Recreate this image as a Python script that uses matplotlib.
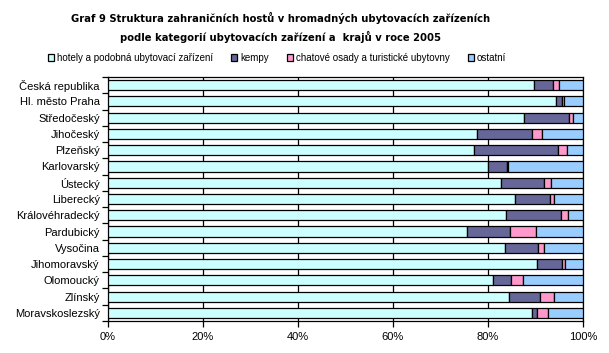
import matplotlib
matplotlib.use("Agg")
import matplotlib.pyplot as plt
from matplotlib import font_manager
import numpy as np

plt.rcParams['font.family'] = ['Liberation Sans', 'DejaVu Sans']

# Regions (top to bottom) and shares in %
regions = ["Česká republika", "Hl. město Praha", "Středočeský", "Jihočeský",
           "Plzeňský", "Karlovarský", "Ústecký", "Liberecký", "Královéhradecký",
           "Pardubický", "Vysočina", "Jihomoravský", "Olomoucký", "Zlínský",
           "Moravskoslezský"]
hotely = [89.7, 94.4, 87.6, 77.7, 77.0, 80.0, 82.7, 85.7, 83.8, 75.6, 83.6, 90.4, 81.1, 84.5, 89.2]
kempy = [4.0, 1.1, 9.4, 11.5, 17.8, 3.9, 9.0, 7.3, 11.5, 9.0, 6.9, 5.1, 3.8, 6.4, 1.2]
chatove = [1.3, 0.4, 0.8, 2.1, 1.9, 0.4, 1.5, 0.9, 1.5, 5.6, 1.3, 0.8, 2.5, 3.0, 2.3]
ostatni = [5.0, 4.1, 2.2, 8.7, 3.3, 15.7, 6.8, 6.1, 3.2, 9.8, 8.2, 3.7, 12.6, 6.1, 7.3]

series = [hotely, kempy, chatove, ostatni]
names = ["hotely a podobná ubytovací zařízení", "kempy",
         "chatové osady a turistické ubytovny", "ostatní"]
colors = ["#CCFFFF", "#666699", "#FF99CC", "#99CCFF"]

fig = plt.figure(figsize=(6.09, 3.53), dpi=100)
ax = fig.add_axes([108 / 609, 1 - 321 / 353, 475 / 609, 244 / 353])

y = np.arange(len(regions))
left = np.zeros(len(regions))
for vals, name, col in zip(series, names, colors):
    ax.barh(y, vals, left=left, height=0.62, color=col, edgecolor="black",
            linewidth=0.9, label=name, zorder=3)
    left += np.array(vals)

ax.set_xlim(0, 100)
ax.set_ylim(len(regions) - 0.5, -0.5)
ax.set_xticks(np.arange(0, 101, 20))
ax.set_xticklabels([f"{v}%" for v in range(0, 101, 20)], fontsize=8)
ax.set_yticks(y)
ax.set_yticklabels(regions, fontsize=8)
ax.set_yticks(np.arange(-0.5, len(regions), 1), minor=True)
ax.tick_params(axis="y", which="major", length=0, pad=6)
ax.tick_params(axis="y", which="minor", length=4, width=0.9, direction="out")
ax.tick_params(axis="x", length=4, width=0.9, direction="out", pad=4)
ax.xaxis.grid(True, color="black", linewidth=0.9, zorder=0)
for s in ax.spines.values():
    s.set_linewidth(0.9)

# condensed bold face for the title if one is installed
installed = {f.name for f in font_manager.fontManager.ttflist}
if "Liberation Sans Narrow" in installed:
    title_font = dict(family="Liberation Sans Narrow", fontsize=9.5)
else:
    title_font = dict(family="DejaVu Sans", stretch="condensed", fontsize=8)

fig.text(0.46, 1 - 18 / 353,
         "Graf 9 Struktura zahraničních hostů v hromadných ubytovacích zařízeních",
         ha="center", va="center", fontweight="bold", **title_font)
fig.text(0.46, 1 - 37 / 353,
         "podle kategorií ubytovacích zařízení a  krajů v roce 2005",
         ha="center", va="center", fontweight="bold", **title_font)

fig.legend(loc="center", bbox_to_anchor=(0.455, 1 - 58 / 353), ncol=4, frameon=False,
           fontsize=7, handlelength=0.6, handleheight=0.6, handletextpad=0.3,
           columnspacing=1.9, borderaxespad=0)

fig.savefig("out.png", dpi=100)
